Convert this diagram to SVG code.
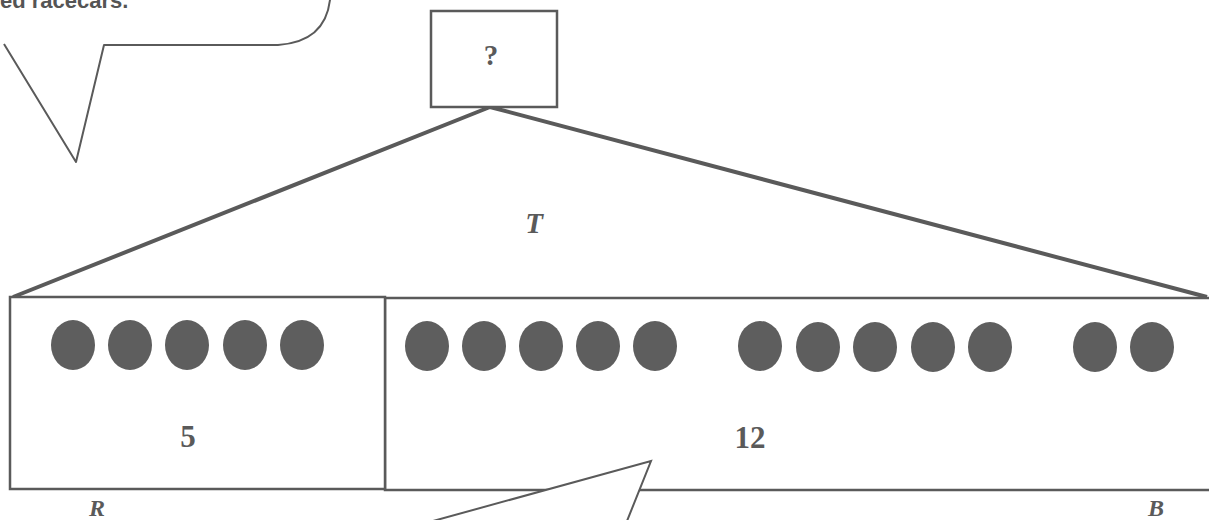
<svg xmlns="http://www.w3.org/2000/svg" width="1209" height="520" viewBox="0 0 1209 520">
<style>
.ln{fill:none;stroke:#5a5a5a;stroke-linejoin:round}
.bx{fill:#fff;stroke:#5a5a5a;stroke-width:2.5}
.dot{fill:#5e5e5e}
.num{font-family:"Liberation Serif",serif;font-weight:bold;fill:#5a5a5a;text-anchor:middle}
.var{font-family:"Liberation Serif",serif;font-weight:bold;font-style:italic;fill:#5a5a5a;text-anchor:middle}
.say{font-family:"Liberation Sans",sans-serif;font-weight:bold;fill:#555}
</style>
<rect width="1209" height="520" fill="#fff"/>
<g id="bubble-top">
<path class="ln" stroke-width="2" d="M4,44 L76,162 L104,45 L278,45 Q325,42 330,0"/>
<text class="say" x="0" y="8" font-size="22">ed racecars.</text>
</g>
<g id="connectors">
<path class="ln" stroke-width="4" d="M13,297 L490,107 L1207,297"/>
</g>
<g id="unknown">
<rect class="bx" x="431" y="11" width="126" height="96" fill="#fff"/>
<text class="num" x="491" y="65" font-size="29">?</text>
</g>
<g id="total-label">
<text class="var" x="534" y="233" font-size="29">T</text>
</g>
<g id="bar-B">
<rect class="bx" x="385" y="298" width="826" height="192"/>
<ellipse class="dot" cx="427" cy="346" rx="22" ry="25"/>
<ellipse class="dot" cx="484" cy="346" rx="22" ry="25"/>
<ellipse class="dot" cx="541" cy="346" rx="22" ry="25"/>
<ellipse class="dot" cx="598" cy="346" rx="22" ry="25"/>
<ellipse class="dot" cx="655" cy="346" rx="22" ry="25"/>
<ellipse class="dot" cx="760" cy="346" rx="22" ry="25"/>
<ellipse class="dot" cx="818" cy="347" rx="22" ry="25"/>
<ellipse class="dot" cx="875" cy="347" rx="22" ry="25"/>
<ellipse class="dot" cx="933" cy="347" rx="22" ry="25"/>
<ellipse class="dot" cx="990" cy="347" rx="22" ry="25"/>
<ellipse class="dot" cx="1095" cy="347" rx="22" ry="25"/>
<ellipse class="dot" cx="1152" cy="347" rx="22" ry="25"/>
<text class="num" x="750" y="448" font-size="31">12</text>
</g>
<g id="bar-R">
<rect class="bx" x="10" y="297" width="375" height="192"/>
<ellipse class="dot" cx="73" cy="345" rx="22" ry="25"/>
<ellipse class="dot" cx="130" cy="345" rx="22" ry="25"/>
<ellipse class="dot" cx="187" cy="345" rx="22" ry="25"/>
<ellipse class="dot" cx="245" cy="345" rx="22" ry="25"/>
<ellipse class="dot" cx="302" cy="345" rx="22" ry="25"/>
<text class="num" x="188" y="447" font-size="31">5</text>
</g>
<g id="label-R"><text class="var" x="97" y="516" font-size="24">R</text></g>
<g id="label-B"><text class="var" x="1156" y="516" font-size="24">B</text></g>
<g id="bubble-bottom">
<path fill="#fff" stroke="#5a5a5a" stroke-width="2" stroke-linejoin="miter" d="M433,521 L651,461 L627,521"/>
</g>
</svg>
